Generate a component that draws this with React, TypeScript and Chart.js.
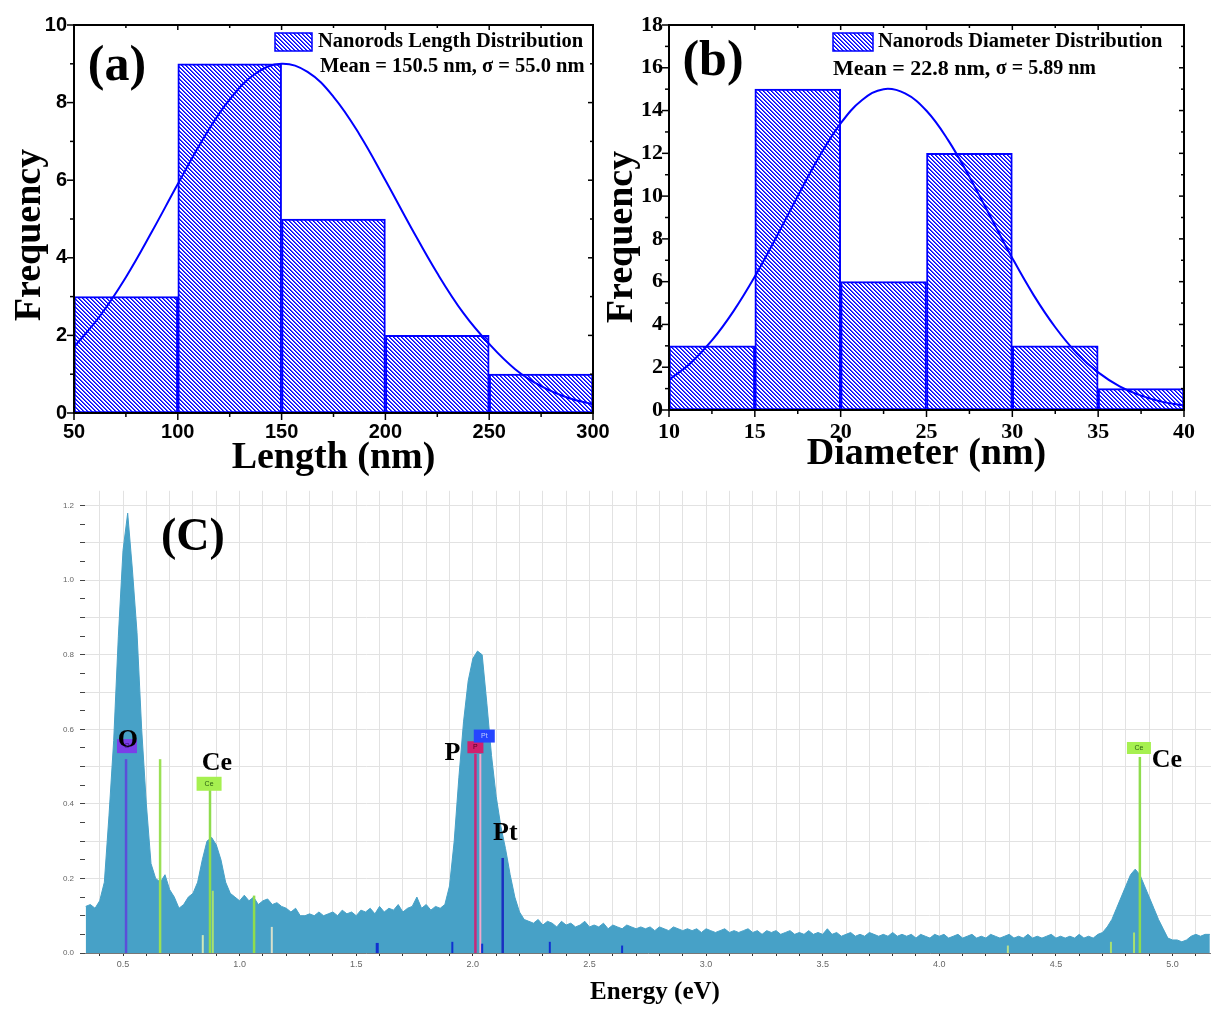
import React, { useEffect, useRef } from 'react';
import { Chart, registerables } from 'chart.js';

Chart.register(...registerables);

const SERIF = '"Liberation Serif", "Times New Roman", serif';
const SANS = '"Liberation Sans", Arial, sans-serif';
const BLUE = '#0000ff';

// ---------------- Panel (a): length histogram ----------------
const lengthBinCenters = [75, 125, 175, 225, 275];
const lengthCounts = [3, 9, 5, 2, 1];
const lengthFitX = [50, 62.5, 75, 87.5, 100, 112.5, 125, 137.5, 150, 162.5, 175, 187.5, 200, 212.5, 225, 237.5, 250, 262.5, 275, 287.5, 300];
const lengthFitY = [1.7, 2.5, 3.5, 4.67, 5.9, 7.09, 8.08, 8.75, 9.0, 8.79, 8.15, 7.18, 6.0, 4.77, 3.6, 2.58, 1.78, 1.13, 0.69, 0.4, 0.22];

// ---------------- Panel (b): diameter histogram ----------------
const diamBinCenters = [12.5, 17.5, 22.5, 27.5, 32.5, 37.5];
const diamCounts = [3, 15, 6, 12, 3, 1];
const diamFitX = [10, 11.25, 12.5, 13.75, 15, 16.25, 17.5, 18.75, 20, 21.25, 22.5, 23.75, 25, 26.25, 27.5, 28.75, 30, 31.25, 32.5, 33.75, 35, 36.25, 37.5, 38.75, 40];
const diamFitY = [1.41, 2.19, 3.25, 4.61, 6.24, 8.08, 10.0, 11.84, 13.4, 14.49, 15.0, 14.8, 13.99, 12.63, 10.9, 9.0, 7.1, 5.36, 3.87, 2.66, 1.76, 1.11, 0.67, 0.38, 0.21];

// ---------------- Panel (c): EDS spectrum ----------------
const spectrumStartEnergy = 0.34; // eV, first channel
const spectrumChannelWidth = 0.02; // eV per channel
const spectrumCounts = [
  // 0.34 - 0.52
  0.125, 0.13, 0.12, 0.14, 0.19, 0.37, 0.57, 0.85, 1.08, 1.18,
  // 0.54 - 0.72
  1.03, 0.86, 0.60, 0.40, 0.24, 0.20, 0.19, 0.21, 0.17, 0.15,
  // 0.74 - 0.92
  0.12, 0.13, 0.15, 0.16, 0.19, 0.25, 0.30, 0.31, 0.29, 0.25,
  // 0.94 - 1.12
  0.19, 0.16, 0.15, 0.14, 0.155, 0.14, 0.15, 0.13, 0.14, 0.145,
  // 1.14 - 1.32
  0.13, 0.135, 0.125, 0.12, 0.11, 0.12, 0.10, 0.10, 0.105, 0.10,
  // 1.34 - 1.52
  0.11, 0.10, 0.105, 0.11, 0.10, 0.115, 0.105, 0.11, 0.10, 0.115,
  // 1.54 - 1.72
  0.11, 0.12, 0.105, 0.125, 0.11, 0.12, 0.115, 0.13, 0.11, 0.12,
  // 1.74 - 1.92
  0.125, 0.15, 0.12, 0.13, 0.115, 0.125, 0.12, 0.13, 0.18, 0.30,
  // 1.94 - 2.12
  0.47, 0.62, 0.73, 0.79, 0.81, 0.80, 0.67, 0.53, 0.42, 0.34,
  // 2.14 - 2.32
  0.28, 0.21, 0.15, 0.11, 0.09, 0.085, 0.08, 0.09, 0.075, 0.085,
  // 2.34 - 2.52
  0.08, 0.07, 0.085, 0.075, 0.08, 0.07, 0.075, 0.085, 0.07, 0.075,
  // 2.54 - 2.72
  0.07, 0.08, 0.065, 0.075, 0.07, 0.065, 0.075, 0.07, 0.065, 0.07,
  // 2.74 - 2.92
  0.065, 0.07, 0.06, 0.07, 0.065, 0.06, 0.07, 0.065, 0.06, 0.065,
  // 2.94 - 3.12
  0.06, 0.065, 0.055, 0.065, 0.06, 0.055, 0.06, 0.065, 0.055, 0.06,
  // 3.14 - 3.32
  0.055, 0.06, 0.065, 0.055, 0.06, 0.05, 0.06, 0.055, 0.06, 0.05,
  // 3.34 - 3.52
  0.055, 0.06, 0.05, 0.055, 0.05, 0.06, 0.05, 0.055, 0.05, 0.065,
  // 3.54 - 3.72
  0.05, 0.055, 0.045, 0.05, 0.055, 0.045, 0.05, 0.045, 0.055, 0.05,
  // 3.74 - 3.92
  0.045, 0.05, 0.045, 0.055, 0.045, 0.05, 0.045, 0.05, 0.04, 0.05,
  // 3.94 - 4.12
  0.045, 0.04, 0.05, 0.045, 0.05, 0.04, 0.045, 0.05, 0.04, 0.045,
  // 4.14 - 4.32
  0.05, 0.04, 0.045, 0.04, 0.05, 0.045, 0.04, 0.045, 0.05, 0.04,
  // 4.34 - 4.52
  0.045, 0.04, 0.05, 0.04, 0.045, 0.04, 0.045, 0.05, 0.04, 0.045,
  // 4.54 - 4.72
  0.04, 0.045, 0.04, 0.05, 0.04, 0.045, 0.04, 0.05, 0.055, 0.07,
  // 4.74 - 4.92
  0.09, 0.12, 0.15, 0.18, 0.21, 0.225, 0.21, 0.18, 0.15, 0.12,
  // 4.94 - 5.12
  0.09, 0.065, 0.04, 0.035, 0.035, 0.03, 0.035, 0.045, 0.05, 0.045,
  // 5.14 - 5.16
  0.05, 0.05,
];

// element marker lines (energy, height, colour, width)
const markerEnergies = [0.513, 0.659, 0.842, 0.873, 0.885, 1.062, 1.138, 1.59, 1.912, 2.011, 2.032, 2.04, 2.128, 2.33, 2.64, 4.294, 4.736, 4.835, 4.86];
const markerHeights = [0.52, 0.52, 0.048, 0.44, 0.167, 0.154, 0.07, 0.027, 0.03, 0.534, 0.534, 0.025, 0.255, 0.03, 0.02, 0.02, 0.03, 0.055, 0.526];
const markerColors = ['#5b4fd8', '#9be055', '#cfe8b8', '#8fdc4e', '#a8e070', '#8fdc4e', '#d8e0cc', '#1030d0', '#1030d0', '#c8287a', '#f2a8cc', '#1030d0', '#1a2fc0', '#1030d0', '#1030d0', '#b8e090', '#a8e070', '#a8e070', '#8fdc4e'];
const markerWidths = [2.5, 2.5, 2, 2.5, 2, 2.5, 2, 3, 2, 2.5, 2, 2, 2.5, 2, 2, 2, 2, 2, 2.5];

// small coloured tag boxes on the marker lines
const tagTexts = ['O', 'Ce', 'P', 'Pt', 'Ce'];
const tagEnergies = [0.517, 0.869, 2.011, 2.049, 4.856];
const tagLevels = [0.555, 0.454, 0.552, 0.582, 0.55];
const tagColors = ['#7b3fe8', '#a6f050', '#d0206e', '#2545ff', '#a6f050'];
const tagTextColors = ['#3a1080', '#2a6010', '#500020', '#c0d0ff', '#2a6010'];
const tagWidths = [20, 25, 16, 21, 24];
const tagHeights = [14, 14, 12, 13, 12];

// bold element labels
const elementLabels = ['O', 'Ce', 'P', 'Pt', 'Ce'];
const elementLabelEnergies = [0.521, 0.903, 1.912, 2.139, 4.976];
const elementLabelLevels = [0.571, 0.51, 0.537, 0.321, 0.518];

function isMult(v: number, step: number) {
  const r = v / step;
  return Math.abs(r - Math.round(r)) < 1e-6;
}

function makeHatch(color: string) {
  const c = document.createElement('canvas');
  c.width = 4;
  c.height = 4;
  const g = c.getContext('2d')!;
  g.fillStyle = '#ffffff';
  g.fillRect(0, 0, 4, 4);
  g.fillStyle = color;
  for (let i = 0; i < 4; i++) g.fillRect(i, i, 1, 1);
  g.globalAlpha = 0.7;
  for (let i = 0; i < 4; i++) g.fillRect((i + 1) % 4, i, 1, 1);
  return g.createPattern(c, 'repeat')!;
}

type TextPart = { text: string; size: number };
interface HistSpec {
  centers: number[];
  counts: number[];
  fitX: number[];
  fitY: number[];
  xMin: number; xMax: number; xStep: number; xMinor: number;
  yMax: number; yStep: number; yMinor: number;
  tickFamily: string; tickSize: number;
  xTitle: string; xTitlePadBottom: number;
  padRight: number; yAxisW: number; xAxisH: number;
  xTickPad: number; yTickPad: number;
  yTitleX: number; yTitleY: number;
  panelText: string; panelX: number; panelY: number;
  legendText: string; legendBox: [number, number, number, number];
  legendTextX: number; legendTextY: number;
  meanParts: TextPart[]; meanX: number; meanY: number;
}

function makeHist(canvas: HTMLCanvasElement, s: HistSpec) {
  const ctx0 = canvas.getContext('2d')!;
  const hatch = makeHatch(BLUE);
  const framePlugin = {
    id: 'frame',
    afterDraw(chart: any) {
      const { ctx, chartArea } = chart;
      const { left, right, top, bottom } = chartArea;
      const x = chart.scales.x;
      const y = chart.scales.y;
      ctx.save();
      ctx.strokeStyle = '#000';
      ctx.lineWidth = 2;
      ctx.strokeRect(left, top, right - left, bottom - top);
      ctx.lineWidth = 1.5;
      const seg = (x1: number, y1: number, x2: number, y2: number) => {
        ctx.beginPath(); ctx.moveTo(x1, y1); ctx.lineTo(x2, y2); ctx.stroke();
      };
      for (let v = s.xMin; v <= s.xMax + 1e-9; v += s.xMinor) {
        const px = x.getPixelForValue(v);
        const major = isMult(v - s.xMin, s.xStep);
        seg(px, bottom, px, bottom + (major ? 7 : 4));
        seg(px, top, px, top + (major ? 5 : 3));
      }
      for (let v = 0; v <= s.yMax + 1e-9; v += s.yMinor) {
        const py = y.getPixelForValue(v);
        const major = isMult(v, s.yStep);
        seg(left, py, left - (major ? 7 : 4), py);
        seg(right, py, right - (major ? 5 : 3), py);
      }
      // y title
      ctx.fillStyle = '#000';
      ctx.save();
      ctx.translate(s.yTitleX, s.yTitleY);
      ctx.rotate(-Math.PI / 2);
      ctx.font = `bold 38px ${SERIF}`;
      ctx.textAlign = 'center';
      ctx.textBaseline = 'middle';
      ctx.fillText('Frequency', 0, 0);
      ctx.restore();
      // panel label
      ctx.font = `bold 50px ${SERIF}`;
      ctx.textAlign = 'center';
      ctx.textBaseline = 'middle';
      ctx.fillText(s.panelText, s.panelX, s.panelY);
      // legend
      const [bx, by, bw, bh] = s.legendBox;
      ctx.fillStyle = hatch;
      ctx.fillRect(bx, by, bw, bh);
      ctx.strokeStyle = BLUE;
      ctx.lineWidth = 1.5;
      ctx.strokeRect(bx, by, bw, bh);
      ctx.fillStyle = '#000';
      ctx.textAlign = 'left';
      ctx.font = `bold 20.5px ${SERIF}`;
      ctx.fillText(s.legendText, s.legendTextX, s.legendTextY);
      let tx = s.meanX;
      for (const p of s.meanParts) {
        ctx.font = `bold ${p.size}px ${SERIF}`;
        ctx.fillText(p.text, tx, s.meanY);
        tx += ctx.measureText(p.text).width;
      }
      ctx.restore();
    },
  };

  return new Chart(ctx0, {
    type: 'bar',
    data: {
      datasets: [
        {
          type: 'line',
          data: s.fitX.map((v, i) => ({ x: v, y: s.fitY[i] })),
          borderColor: BLUE,
          borderWidth: 2,
          pointRadius: 0,
          tension: 0.4,
          fill: false,
          order: 0,
        } as any,
        {
          type: 'bar',
          data: s.centers.map((v, i) => ({ x: v, y: s.counts[i] })),
          backgroundColor: hatch,
          borderColor: BLUE,
          borderWidth: 2,
          borderSkipped: false,
          barPercentage: 1,
          categoryPercentage: 1,
          order: 1,
        } as any,
      ],
    },
    options: {
      animation: false,
      responsive: false,
      maintainAspectRatio: false,
      layout: { padding: { left: 0, top: 25, right: s.padRight, bottom: 0 } },
      plugins: { legend: { display: false }, tooltip: { enabled: false } },
      scales: {
        x: {
          type: 'linear',
          min: s.xMin,
          max: s.xMax,
          offset: false,
          afterFit: (sc: any) => { sc.height = s.xAxisH; },
          grid: { display: false, drawTicks: false, offset: false },
          border: { display: false },
          ticks: {
            stepSize: s.xStep,
            autoSkip: false,
            maxRotation: 0,
            padding: s.xTickPad,
            color: '#000',
            font: { family: s.tickFamily, size: s.tickSize, weight: 'bold' },
          },
          title: {
            display: true,
            text: s.xTitle,
            color: '#000',
            font: { family: SERIF, size: 38, weight: 'bold', lineHeight: 1 },
            padding: { top: 0, bottom: s.xTitlePadBottom },
          },
        },
        y: {
          type: 'linear',
          min: 0,
          max: s.yMax,
          afterFit: (sc: any) => { sc.width = s.yAxisW; },
          grid: { display: false, drawTicks: false },
          border: { display: false },
          ticks: {
            stepSize: s.yStep,
            padding: s.yTickPad,
            color: '#000',
            font: { family: s.tickFamily, size: s.tickSize, weight: 'bold' },
          },
        },
      },
    } as any,
    plugins: [framePlugin],
  });
}

function makeEds(canvas: HTMLCanvasElement) {
  const points = spectrumCounts.map((v, i) => ({
    x: Math.round((spectrumStartEnergy + i * spectrumChannelWidth) * 1000) / 1000,
    y: v,
  }));
  const edsPlugin = {
    id: 'eds',
    afterDatasetsDraw(chart: any) {
      const { ctx } = chart;
      const x = chart.scales.x;
      const y = chart.scales.y;
      ctx.save();
      const y0 = y.getPixelForValue(0);
      markerEnergies.forEach((e, i) => {
        const px = x.getPixelForValue(e);
        ctx.strokeStyle = markerColors[i];
        ctx.lineWidth = markerWidths[i];
        ctx.beginPath();
        ctx.moveTo(px, y0);
        ctx.lineTo(px, y.getPixelForValue(markerHeights[i]));
        ctx.stroke();
      });
      tagTexts.forEach((t, i) => {
        const cx = x.getPixelForValue(tagEnergies[i]);
        const cy = y.getPixelForValue(tagLevels[i]);
        const w = tagWidths[i];
        const h = tagHeights[i];
        ctx.fillStyle = tagColors[i];
        ctx.fillRect(cx - w / 2, cy - h / 2, w, h);
        ctx.fillStyle = tagTextColors[i];
        ctx.font = `7px ${SANS}`;
        ctx.textAlign = 'center';
        ctx.textBaseline = 'middle';
        ctx.fillText(t, cx, cy);
      });
      ctx.fillStyle = '#000';
      ctx.font = `bold 26px ${SERIF}`;
      ctx.textAlign = 'center';
      ctx.textBaseline = 'middle';
      elementLabels.forEach((t, i) => {
        ctx.fillText(t, x.getPixelForValue(elementLabelEnergies[i]), y.getPixelForValue(elementLabelLevels[i]));
      });
      ctx.font = `bold 46px ${SERIF}`;
      ctx.fillText('(C)', x.getPixelForValue(0.80), y.getPixelForValue(1.113));
      ctx.restore();
    },
    afterDraw(chart: any) {
      const { ctx } = chart;
      ctx.save();
      ctx.fillStyle = '#000';
      ctx.font = `bold 25px ${SERIF}`;
      ctx.textAlign = 'center';
      ctx.textBaseline = 'middle';
      ctx.fillText('Energy (eV)', 655, 513);
      ctx.restore();
    },
  };

  return new Chart(canvas.getContext('2d')!, {
    type: 'line',
    data: {
      datasets: [
        {
          data: points,
          tension: 0,
          fill: 'origin',
          backgroundColor: '#47a1c7',
          borderColor: '#47a1c7',
          borderWidth: 1,
          pointRadius: 0,
        } as any,
      ],
    },
    options: {
      animation: false,
      responsive: false,
      maintainAspectRatio: false,
      layout: { padding: { left: 0, top: 6, right: 0, bottom: 0 } },
      plugins: { legend: { display: false }, tooltip: { enabled: false } },
      scales: {
        x: {
          type: 'linear',
          min: 0.337,
          max: 5.165,
          afterFit: (sc: any) => { sc.height = 57; },
          grid: { color: '#e2e2e2', lineWidth: 1, tickLength: 3, tickColor: '#333' },
          border: { color: '#777', width: 1 },
          ticks: {
            stepSize: 0.1,
            includeBounds: false,
            autoSkip: false,
            maxRotation: 0,
            padding: 3,
            color: '#666',
            font: { family: SANS, size: 9 },
            callback: (v: any) => (isMult(Number(v), 0.5) ? Number(v).toFixed(1) : ''),
          },
        },
        y: {
          type: 'linear',
          min: 0,
          max: 1.24,
          afterFit: (sc: any) => { sc.width = 85; },
          grid: {
            color: (c: any) => (c.tick && isMult(c.tick.value, 0.1) ? '#e2e2e2' : 'rgba(0,0,0,0)'),
            tickColor: '#444',
            tickLength: 5,
          },
          border: { display: false },
          ticks: {
            stepSize: 0.05,
            includeBounds: false,
            autoSkip: false,
            padding: 6,
            color: '#666',
            font: { family: SANS, size: 8 },
            callback: (v: any) => (isMult(Number(v), 0.2) ? Number(v).toFixed(1) : ''),
          },
        },
      },
    } as any,
    plugins: [edsPlugin],
  });
}

const specA: HistSpec = {
  centers: lengthBinCenters, counts: lengthCounts, fitX: lengthFitX, fitY: lengthFitY,
  xMin: 50, xMax: 300, xStep: 50, xMinor: 25,
  yMax: 10, yStep: 2, yMinor: 1,
  tickFamily: SANS, tickSize: 20,
  xTitle: 'Length (nm)', xTitlePadBottom: 3,
  padRight: 27, yAxisW: 74, xAxisH: 67,
  xTickPad: 7, yTickPad: 7,
  yTitleX: 30, yTitleY: 235,
  panelText: '(a)', panelX: 117, panelY: 67,
  legendText: 'Nanorods Length Distribution', legendBox: [275, 33, 37, 18],
  legendTextX: 318, legendTextY: 42,
  meanParts: [{ text: 'Mean = 150.5 nm, \u03c3 = 55.0 nm', size: 20.5 }], meanX: 320, meanY: 67,
};

const specB: HistSpec = {
  centers: diamBinCenters, counts: diamCounts, fitX: diamFitX, fitY: diamFitY,
  xMin: 10, xMax: 40, xStep: 5, xMinor: 2.5,
  yMax: 18, yStep: 2, yMinor: 1,
  tickFamily: SERIF, tickSize: 22,
  xTitle: 'Diameter (nm)', xTitlePadBottom: 7,
  padRight: 27, yAxisW: 69, xAxisH: 70,
  xTickPad: 9, yTickPad: 6,
  yTitleX: 22, yTitleY: 237,
  panelText: '(b)', panelX: 113, panelY: 62,
  legendText: 'Nanorods Diameter Distribution', legendBox: [233, 33, 40, 18],
  legendTextX: 278, legendTextY: 42,
  meanParts: [{ text: 'Mean = 22.8 nm, ', size: 22 }, { text: '\u03c3 = 5.89 nm', size: 20 }], meanX: 233, meanY: 69,
};

export default function App() {
  const aRef = useRef<HTMLCanvasElement>(null);
  const bRef = useRef<HTMLCanvasElement>(null);
  const cRef = useRef<HTMLCanvasElement>(null);

  useEffect(() => {
    const charts = [
      makeHist(aRef.current!, specA),
      makeHist(bRef.current!, specB),
      makeEds(cRef.current!),
    ];
    return () => charts.forEach((c) => c.destroy());
  }, []);

  return (
    <div style={{ position: 'absolute', left: 0, top: 0, width: 1211, height: 1010, background: '#fff', overflow: 'hidden' }}>
      <canvas ref={aRef} width={620} height={480} style={{ position: 'absolute', left: 0, top: 0 }} />
      <canvas ref={bRef} width={611} height={480} style={{ position: 'absolute', left: 600, top: 0 }} />
      <canvas ref={cRef} width={1211} height={530} style={{ position: 'absolute', left: 0, top: 480 }} />
    </div>
  );
}
